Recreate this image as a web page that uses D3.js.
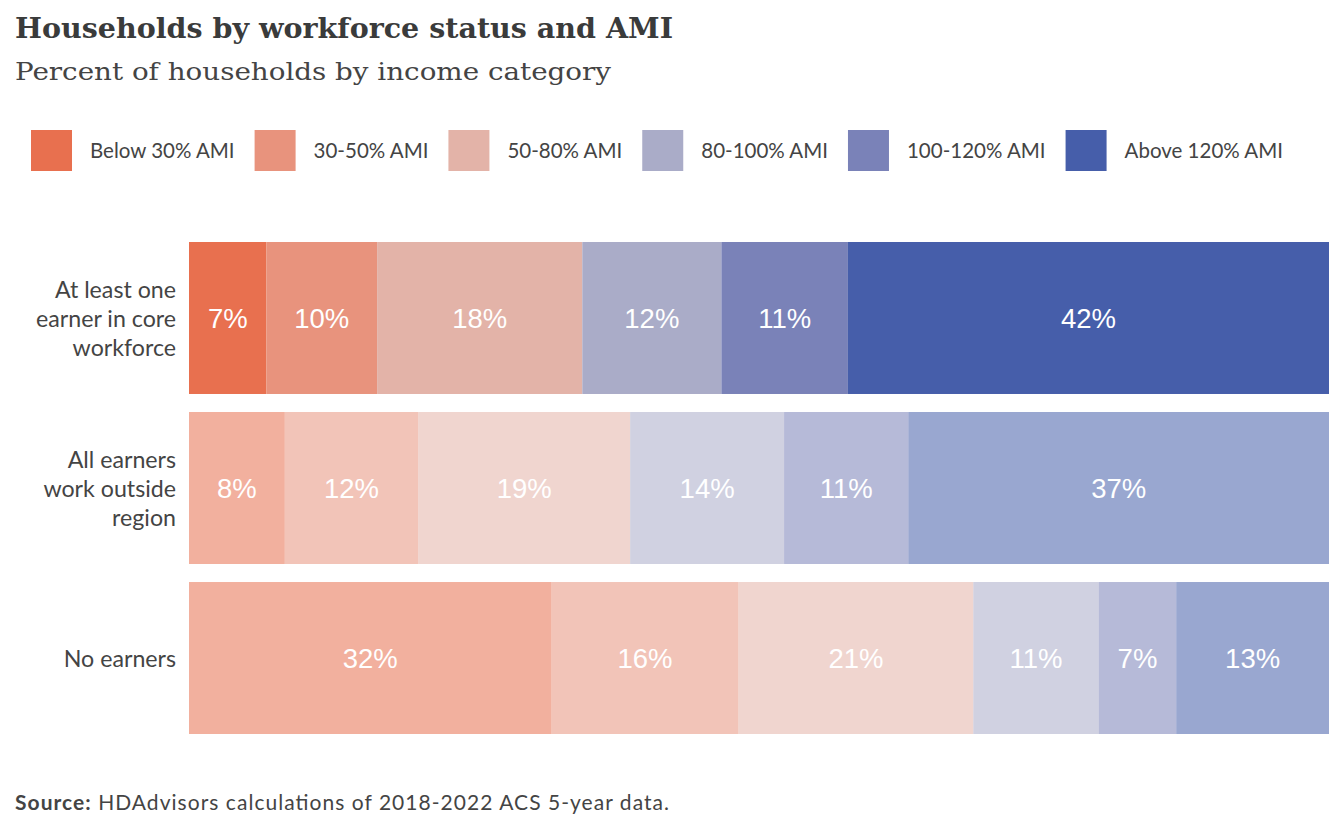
<!DOCTYPE html>
<html>
<head>
<meta charset="utf-8">
<script src="https://cdn.jsdelivr.net/npm/d3@7"></script>
<style>
  body { margin: 0; background: #fff; }
  svg text { fill: #444; }
</style>
</head>
<body>
<svg id="chart" width="1344" height="830"></svg>
<script>
// data
const categories = ["At least one earner in core workforce", "All earners work outside region", "No earners"];
const categoryLines = [["At least one", "earner in core", "workforce"], ["All earners", "work outside", "region"], ["No earners"]];
const amiLevels = ["Below 30% AMI", "30-50% AMI", "50-80% AMI", "80-100% AMI", "100-120% AMI", "Above 120% AMI"];
const coreWorkforce = [6.8, 9.7, 18.0, 12.2, 11.1, 42.2];
const outsideRegion = [8.4, 11.7, 18.6, 13.5, 10.9, 36.9];
const noEarners = [31.8, 16.4, 20.6, 11.0, 6.8, 13.4];
const seriesByRow = [coreWorkforce, outsideRegion, noEarners];
const colors = ["#e8704f", "#e8937d", "#e3b3a8", "#aaacc8", "#7a82b8", "#465eaa"];
const rowOpacity = [1, 0.55, 0.55];

const svg = d3.select("#chart");

// title + subtitle
svg.append("text")
  .attr("x", 15).attr("y", 38)
  .attr("font-family", "'Roboto Slab', 'DejaVu Serif', serif")
  .attr("font-weight", "bold")
  .attr("font-size", 27)
  .attr("textLength", 658).attr("lengthAdjust", "spacingAndGlyphs")
  .style("fill", "#3a3b3b")
  .text("Households by workforce status and AMI");

svg.append("text")
  .attr("x", 15).attr("y", 80)
  .attr("font-family", "'Roboto Slab', 'DejaVu Serif', serif")
  .attr("font-size", 25)
  .attr("textLength", 596).attr("lengthAdjust", "spacingAndGlyphs")
  .text("Percent of households by income category");

// legend, each item placed after the text of the previous one
const legend = svg.append("g");
let lx = 31;
amiLevels.forEach((lvl, i) => {
  legend.append("rect")
    .attr("x", lx).attr("y", 130)
    .attr("width", 41).attr("height", 41)
    .attr("fill", colors[i]);
  const t = legend.append("text")
    .attr("x", lx + 59).attr("y", 158)
    .attr("font-family", "Lato, sans-serif")
    .attr("font-size", 20.5)
    .text(lvl);
  lx = lx + 59 + t.node().getComputedTextLength() + 20;
});

// scales
const x = d3.scaleLinear().domain([0, 100]).range([189, 1329]);
const y = d3.scaleBand().domain(categories).range([242, 734]).paddingInner(0.106).paddingOuter(0);

const rows = svg.append("g").selectAll("g")
  .data(categories)
  .join("g");

rows.each(function (cat, r) {
  const g = d3.select(this);
  const vals = seriesByRow[r];
  let acc = 0;
  const segs = vals.map((v, i) => {
    const s = { start: acc, end: acc + v, v: v, i: i };
    acc += v;
    return s;
  });

  g.selectAll("rect")
    .data(segs)
    .join("rect")
    .attr("x", d => x(d.start))
    .attr("y", y(cat))
    .attr("width", d => x(d.end) - x(d.start))
    .attr("height", y.bandwidth())
    .attr("fill", d => colors[d.i])
    .attr("fill-opacity", rowOpacity[r]);

  g.selectAll("text.val")
    .data(segs)
    .join("text")
    .attr("class", "val")
    .attr("x", d => (x(d.start) + x(d.end)) / 2)
    .attr("y", y(cat) + y.bandwidth() / 2)
    .attr("dy", "0.36em")
    .attr("text-anchor", "middle")
    .attr("font-family", "'Liberation Sans', Arial, sans-serif")
    .attr("font-size", 27.5)
    .style("fill", "#fff")
    .text(d => Math.round(d.v) + "%");

  // category label, right aligned
  const lines = categoryLines[r];
  const lab = g.append("text")
    .attr("text-anchor", "end")
    .attr("font-family", "Lato, sans-serif")
    .attr("font-size", 23.2)
    .attr("y", y(cat) + y.bandwidth() / 2 + 1);
  lines.forEach((ln, k) => {
    lab.append("tspan")
      .attr("x", 176)
      .attr("dy", k === 0 ? (0.36 - (lines.length - 1) * 0.625) + "em" : "1.25em")
      .text(ln);
  });
});

// source line
const src = svg.append("text")
  .attr("x", 15).attr("y", 810)
  .attr("font-family", "Lato, sans-serif")
  .attr("font-size", 21)
  .attr("textLength", 654).attr("lengthAdjust", "spacing");
src.append("tspan").attr("font-weight", "bold").text("Source:");
src.append("tspan").text(" HDAdvisors calculations of 2018-2022 ACS 5-year data.");
</script>
</body>
</html>
